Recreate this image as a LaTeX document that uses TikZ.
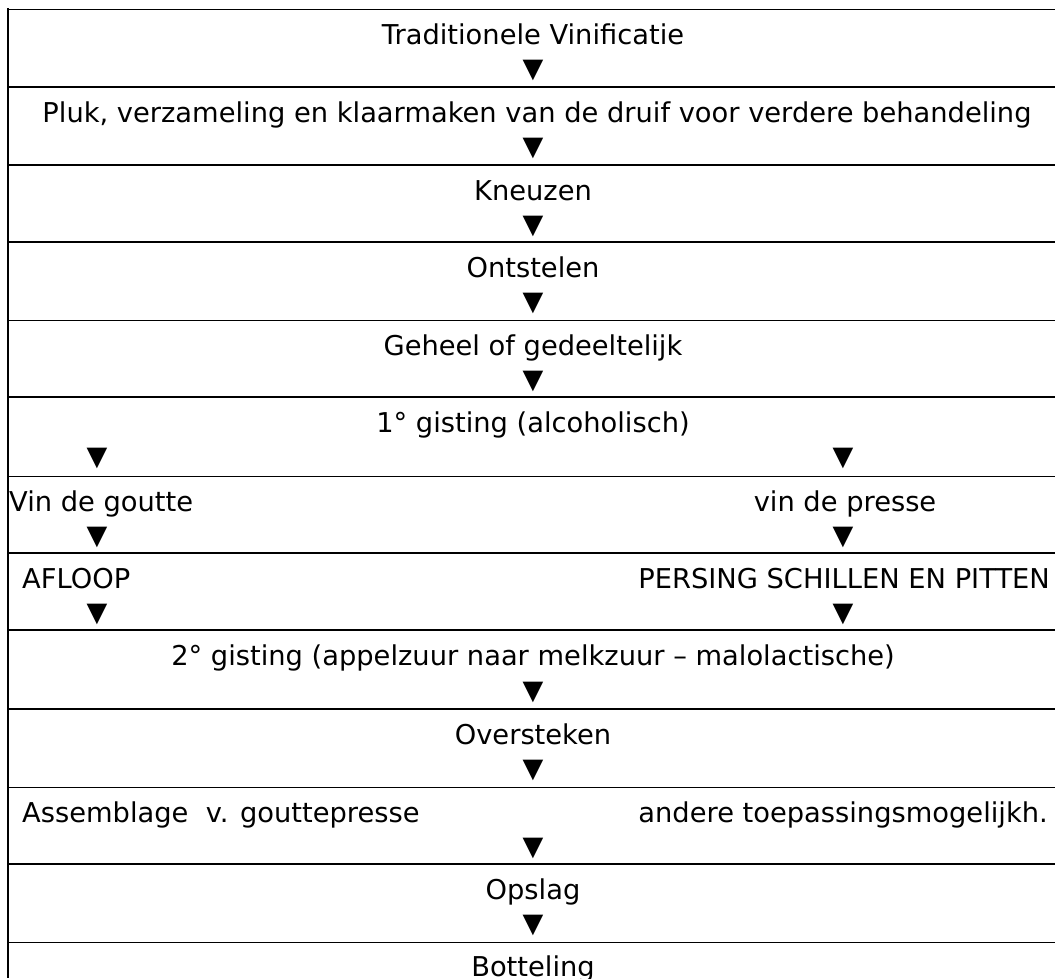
\documentclass[tikz,border=0pt]{standalone}
\usepackage{fontspec}
\setmainfont{DejaVu Sans}
\usepackage{tikz}
\usetikzlibrary{positioning}
\usepackage{xcolor}
\definecolor{vinblack}{RGB}{0,0,0}
\tikzset{
    stap/.style={
        inner sep=0pt,anchor=base,text=vinblack,
        font=\fontsize{27.3}{30}\selectfont
    },
    stapw/.style={stap,anchor=base west},
    stape/.style={stap,anchor=base east},
    tri/.style={
        inner sep=0pt,text=vinblack,
        font=\fontsize{27}{30}\selectfont
    },
    dik/.style={line width=2pt,draw=vinblack},
    dun/.style={line width=1pt,draw=vinblack}
}

\begin{document}
\begin{tikzpicture}[x=1pt,y=-1pt]
\useasboundingbox (0,0) rectangle (1055,978);

% rows
\foreach \yy/\st in {9/dun,87/dik,165/dik,242/dik,320/dun,397/dik,476/dun,
                     553/dik,630/dik,709/dik,787/dun,864/dik,942/dun}
  \draw[\st] (8,\yy) -- (1055,\yy);
\draw[dik] (8,8) -- (8,978);

% center column
\node[stap] (trad) at (533,44) {Traditionele Vinificatie};
\node[tri] (p1) at (533,70) {▼};
\node[stap] (pluk) at (537,122) {Pluk, verzameling en klaarmaken van de druif voor verdere behandeling};
\node[tri] (p2) at (533,148) {▼};
\node[stap] (kneuz) at (533,200) {Kneuzen};
\node[tri] (p3) at (533,226) {▼};
\node[stap] (ontst) at (533,277) {Ontstelen};
\node[tri] (p4) at (533,303) {▼};
\node[stap] (geheel) at (533,355) {Geheel of gedeeltelijk};
\node[tri] (p5) at (533,381) {▼};
\node[stap] (gist1) at (533,432) {1° gisting (alcoholisch)};

% two branches
\node[tri] (l1) at (97,458) {▼};
\node[tri] (r1) at (843,458) {▼};
\node[stapw] (goutte) at (9,511) {Vin de goutte};
\node[stap] (presse) at (845,511) {vin de presse};
\node[tri] (l2) at (97,537) {▼};
\node[tri] (r2) at (843,537) {▼};
\node[stapw] (afloop) at (22,588) {AFLOOP};
\node[stape] (persing) at (1050,588) {PERSING SCHILLEN EN PITTEN};
\node[tri] (l3) at (97,614) {▼};
\node[tri] (r3) at (843,614) {▼};

% back to one column
\node[stap] (gist2) at (533,665) {2° gisting (appelzuur naar melkzuur – malolactische)};
\node[tri] (p6) at (533,692) {▼};
\node[stap] (overst) at (533,744) {Oversteken};
\node[tri] (p7) at (533,770) {▼};
\node[stapw] (assem) at (22,822) {Assemblage\ \ v. gouttepresse};
\node[stape] (andere) at (1048,822) {andere toepassingsmogelijkh.};
\node[tri] (p8) at (533,848) {▼};
\node[stap] (opslag) at (533,899) {Opslag};
\node[tri] (p9) at (533,925) {▼};
\node[stap] (bottel) at (533,976) {Botteling};

\end{tikzpicture}
\end{document}
